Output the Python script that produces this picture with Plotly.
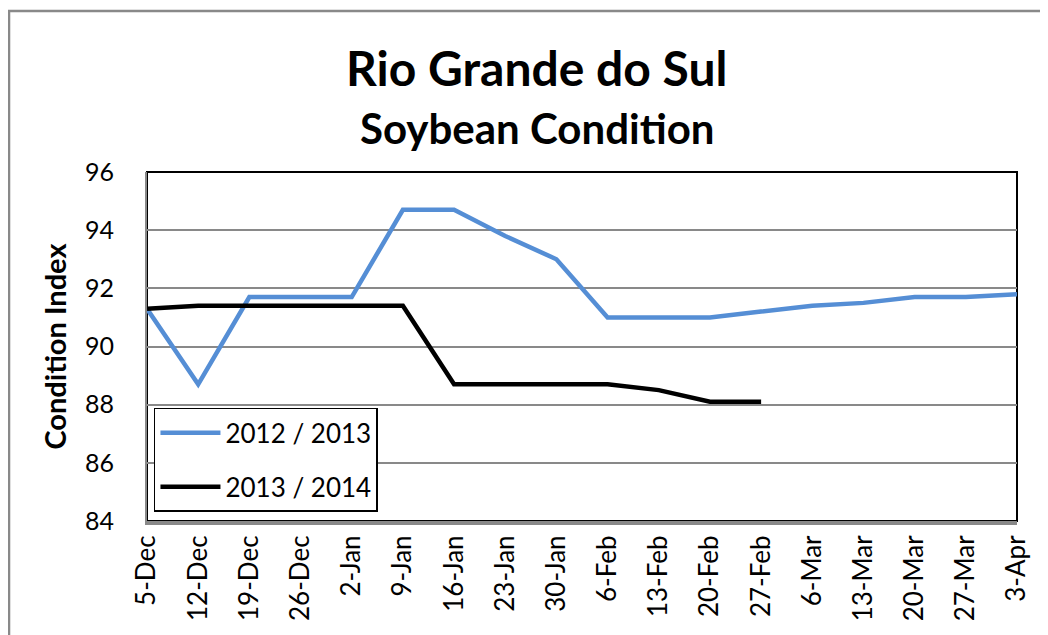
import plotly.graph_objects as go

dates = ["5-Dec", "12-Dec", "19-Dec", "26-Dec", "2-Jan", "9-Jan", "16-Jan", "23-Jan", "30-Jan",
         "6-Feb", "13-Feb", "20-Feb", "27-Feb", "6-Mar", "13-Mar", "20-Mar", "27-Mar", "3-Apr"]
s_2012_2013 = [91.3, 88.7, 91.7, 91.7, 91.7, 94.7, 94.7, 93.8, 93.0,
               91.0, 91.0, 91.0, 91.2, 91.4, 91.5, 91.7, 91.7, 91.8]
s_2013_2014 = [91.3, 91.4, 91.4, 91.4, 91.4, 91.4, 88.7, 88.7, 88.7,
               88.7, 88.5, 88.1, 88.1]

FONT = "Lato"

fig = go.Figure()
fig.add_trace(go.Scatter(x=dates, y=s_2012_2013, mode="lines", name="2012 / 2013",
                         legendgroup="a", line=dict(color="#558ED5", width=4.5)))
fig.add_trace(go.Scatter(x=dates[:len(s_2013_2014)], y=s_2013_2014, mode="lines", name="2013 / 2014",
                         legendgroup="b", line=dict(color="#000000", width=4.5)))

fig.update_layout(
    width=1040, height=627,
    margin=dict(l=139, r=31, t=164, b=114),
    paper_bgcolor="white", plot_bgcolor="white",
    font=dict(family=FONT, color="black", size=24),
    showlegend=True,
    legend=dict(x=0.008, y=0.026, xanchor="left", yanchor="bottom",
                bgcolor="white", bordercolor="black", borderwidth=1.5,
                font=dict(size=26, family=FONT), tracegroupgap=17, itemwidth=60),
    xaxis=dict(type="category", categoryorder="array", categoryarray=dates,
               range=[0, len(dates) - 1], tickangle=-90, showgrid=False,
               showline=True, linecolor="#898989", linewidth=4, ticks="",
               tickfont=dict(size=26, family=FONT), zeroline=False),
    yaxis=dict(range=[84, 96], dtick=2, showgrid=True, gridcolor="#898989", gridwidth=2,
               showline=True, linecolor="#898989", linewidth=2, ticks="",
               ticklabelstandoff=26, tickfont=dict(size=25, family=FONT),
               zeroline=False,
               title=dict(text="<b>Condition Index</b>", font=dict(size=29, family=FONT), standoff=10)),
    shapes=[
        dict(type="rect", xref="paper", yref="paper", x0=0, x1=1, y0=0, y1=1,
             line=dict(color="black", width=2), layer="below"),
        dict(type="rect", xref="paper", yref="paper", x0=-0.1586, x1=1.1, y0=-0.5, y1=1.461,
             line=dict(color="#898989", width=2.5), layer="below"),
    ],
    annotations=[
        dict(text="<b>Rio Grande do Sul</b>", xref="paper", yref="paper", x=0.448, y=1.298,
             xanchor="center", yanchor="middle", showarrow=False, font=dict(size=48, family=FONT)),
        dict(text="<b>Soybean Condition</b>", xref="paper", yref="paper", x=0.448, y=1.126,
             xanchor="center", yanchor="middle", showarrow=False, font=dict(size=42, family=FONT)),
    ],
)

fig.write_html("out.html")
